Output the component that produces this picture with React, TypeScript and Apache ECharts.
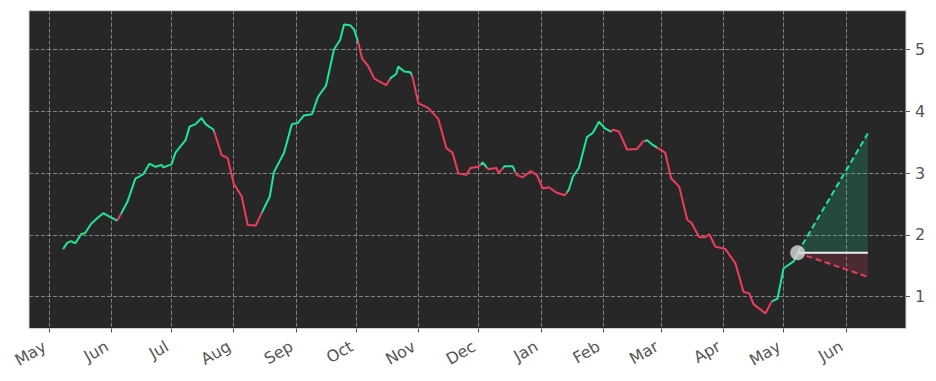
import React, { useEffect, useRef } from "react";
import * as echarts from "echarts";

const lineDates = [
  "2023-05-08","2023-05-10","2023-05-12","2023-05-14","2023-05-17","2023-05-19","2023-05-22","2023-05-25","2023-05-28",
  "2023-06-01","2023-06-04","2023-06-06","2023-06-09","2023-06-13","2023-06-17","2023-06-20","2023-06-23","2023-06-26","2023-06-27",
  "2023-07-01","2023-07-03","2023-07-08","2023-07-10","2023-07-13","2023-07-16","2023-07-18","2023-07-22","2023-07-26","2023-07-29",
  "2023-08-01","2023-08-05","2023-08-08","2023-08-12","2023-08-15","2023-08-19","2023-08-21","2023-08-24","2023-08-26","2023-08-30",
  "2023-09-02","2023-09-05","2023-09-09","2023-09-12","2023-09-16","2023-09-20","2023-09-23","2023-09-25","2023-09-28","2023-09-30",
  "2023-10-02","2023-10-04","2023-10-07","2023-10-10","2023-10-12","2023-10-16","2023-10-18","2023-10-21","2023-10-22","2023-10-25","2023-10-28","2023-10-29",
  "2023-11-01","2023-11-06","2023-11-11","2023-11-15","2023-11-18","2023-11-21","2023-11-25","2023-11-27",
  "2023-12-01","2023-12-03","2023-12-06","2023-12-10","2023-12-11","2023-12-14","2023-12-18","2023-12-20","2023-12-23","2023-12-27","2023-12-30",
  "2024-01-02","2024-01-05","2024-01-09","2024-01-13","2024-01-15","2024-01-17","2024-01-20","2024-01-24","2024-01-27","2024-01-30",
  "2024-02-02","2024-02-05","2024-02-06","2024-02-09","2024-02-13","2024-02-18","2024-02-21","2024-02-23","2024-02-26",
  "2024-03-03","2024-03-06","2024-03-10","2024-03-14","2024-03-16","2024-03-20","2024-03-23","2024-03-25","2024-03-28",
  "2024-04-02","2024-04-07","2024-04-11","2024-04-14","2024-04-16","2024-04-22","2024-04-25","2024-04-28",
  "2024-05-01","2024-05-06","2024-05-08"
];

const lineValues = [
  1.77,1.87,1.90,1.86,2.01,2.03,2.18,2.27,2.35,
  2.28,2.23,2.35,2.53,2.91,2.98,3.15,3.10,3.13,3.09,
  3.14,3.33,3.53,3.75,3.79,3.89,3.79,3.70,3.29,3.24,
  2.83,2.62,2.16,2.15,2.36,2.62,3.01,3.20,3.32,3.79,
  3.81,3.93,3.95,4.23,4.41,5.00,5.15,5.40,5.39,5.32,
  5.12,4.85,4.73,4.53,4.49,4.42,4.53,4.60,4.72,4.64,4.63,4.57,
  4.13,4.05,3.87,3.40,3.33,2.99,2.97,3.08,
  3.10,3.17,3.06,3.08,3.00,3.11,3.11,2.97,2.93,3.03,2.97,
  2.75,2.77,2.68,2.64,2.73,2.94,3.08,3.58,3.65,3.83,
  3.72,3.67,3.70,3.67,3.38,3.39,3.51,3.53,3.45,
  3.33,2.91,2.78,2.24,2.20,1.96,1.96,2.01,1.81,
  1.77,1.54,1.08,1.05,0.88,0.73,0.92,0.97,
  1.46,1.57,1.70
];

// periods where the line is drawn green (rising); everything else is red
const upRanges: [string, string][] = [
  ["2023-05-01", "2023-06-04"],
  ["2023-06-06", "2023-07-22"],
  ["2023-08-15", "2023-10-02"],
  ["2023-10-18", "2023-10-29"],
  ["2023-12-02", "2023-12-05"],
  ["2023-12-13", "2023-12-19"],
  ["2024-01-14", "2024-02-05"],
  ["2024-02-22", "2024-02-28"],
  ["2024-04-25", "2024-05-09"],
];

const forecastStart = "2024-05-08";
const forecastEnd = "2024-06-12";
const lastValue = 1.71;
const forecastHigh = 3.64;
const forecastLow = 1.32;

const monthTicks = [
  "2023-05-01","2023-06-01","2023-07-01","2023-08-01","2023-09-01","2023-10-01","2023-11-01",
  "2023-12-01","2024-01-01","2024-02-01","2024-03-01","2024-04-01","2024-05-01","2024-06-01"
];
const monthNames = ["Jan","Feb","Mar","Apr","May","Jun","Jul","Aug","Sep","Oct","Nov","Dec"];
const yTicks = [1, 2, 3, 4, 5];
const xMin = "2023-04-21";
const xMax = "2024-07-01";
const yMin = 0.486;
const yMax = 5.624;

const GREEN = "#1ee698";
const RED = "#f03c5a";
const TEXT = "#555555";
const FONT = "DejaVu Sans";

function toTs(s: string): number {
  const [y, m, d] = s.split("-").map(Number);
  return new Date(y, m - 1, d).getTime();
}

export default function App() {
  const ref = useRef<HTMLDivElement>(null);
  useEffect(() => {
    if (!ref.current) return;
    const chart = echarts.init(ref.current, undefined, { renderer: "svg" });

    const pieces: any[] = [];
    let cursor = toTs(xMin) - 400 * 86400000;
    upRanges.forEach(([a, b]) => {
      pieces.push({ gte: cursor, lt: toTs(a), color: RED });
      pieces.push({ gte: toTs(a), lt: toTs(b), color: GREEN });
      cursor = toTs(b);
    });
    pieces.push({ gte: cursor, lt: toTs(xMax) + 400 * 86400000, color: RED });

    const tickTs = monthTicks.map(toTs);
    const grid = { color: "#9a9a9a", width: 0.8, type: [4, 2] };

    chart.setOption({
      animation: false,
      backgroundColor: "#ffffff",
      grid: {
        left: 29,
        right: 30,
        top: 10.7,
        bottom: 52.5,
        show: true,
        backgroundColor: "#272727",
        borderColor: "#cfcfcf",
        borderWidth: 1,
      },
      visualMap: {
        show: false,
        type: "piecewise",
        dimension: 0,
        seriesIndex: 0,
        pieces,
      },
      xAxis: {
        type: "value",
        min: toTs(xMin),
        max: toTs(xMax),
        axisLine: { show: false },
        axisTick: {
          show: true,
          customValues: tickTs,
          length: 4,
          lineStyle: { color: TEXT, width: 1 },
        },
        axisLabel: {
          customValues: tickTs,
          rotate: 30,
          margin: 14,
          padding: [0, 5, 0, 0],
          color: TEXT,
          fontSize: 16,
          fontFamily: FONT,
          formatter: (v: number) => monthNames[new Date(v).getMonth()],
        },
        splitLine: {
          show: true,
          customValues: tickTs,
          lineStyle: grid,
        },
      },
      yAxis: {
        type: "value",
        position: "right",
        min: yMin,
        max: yMax,
        axisLine: { show: false },
        axisTick: {
          show: true,
          customValues: yTicks,
          length: 4,
          lineStyle: { color: TEXT, width: 1 },
        },
        axisLabel: {
          customValues: yTicks,
          margin: 9,
          color: TEXT,
          fontSize: 16,
          fontFamily: FONT,
          formatter: (v: number) => String(Math.round(v)),
        },
        splitLine: {
          show: true,
          customValues: yTicks,
          lineStyle: grid,
        },
      },
      series: [
        {
          type: "line",
          data: lineDates.map((d, i) => [toTs(d), lineValues[i]]),
          showSymbol: false,
          lineStyle: { width: 2 },
          z: 5,
        },
        {
          type: "line",
          data: [[toTs(forecastStart), lastValue], [toTs(forecastEnd), forecastHigh]],
          showSymbol: false,
          lineStyle: { color: GREEN, width: 2, type: [6, 3.5] },
          areaStyle: { origin: lastValue, color: "rgba(30,230,150,0.27)" },
          z: 3,
        },
        {
          type: "line",
          data: [[toTs(forecastStart), lastValue], [toTs(forecastEnd), forecastLow]],
          showSymbol: false,
          lineStyle: { color: RED, width: 2, type: [6, 3.5] },
          areaStyle: { origin: lastValue, color: "rgba(240,60,90,0.25)" },
          z: 3,
        },
        {
          type: "line",
          data: [[toTs(forecastStart), lastValue], [toTs(forecastEnd), lastValue]],
          showSymbol: false,
          lineStyle: { color: "#ececec", width: 2 },
          z: 4,
        },
        {
          type: "scatter",
          data: [[toTs(forecastStart), lastValue]],
          symbolSize: 15,
          itemStyle: { color: "#d9d9d9" },
          z: 6,
        },
      ],
    });
    return () => chart.dispose();
  }, []);
  return (
    <div
      ref={ref}
      style={{ position: "absolute", left: 0, top: 0, width: 936, height: 381 }}
    />
  );
}
